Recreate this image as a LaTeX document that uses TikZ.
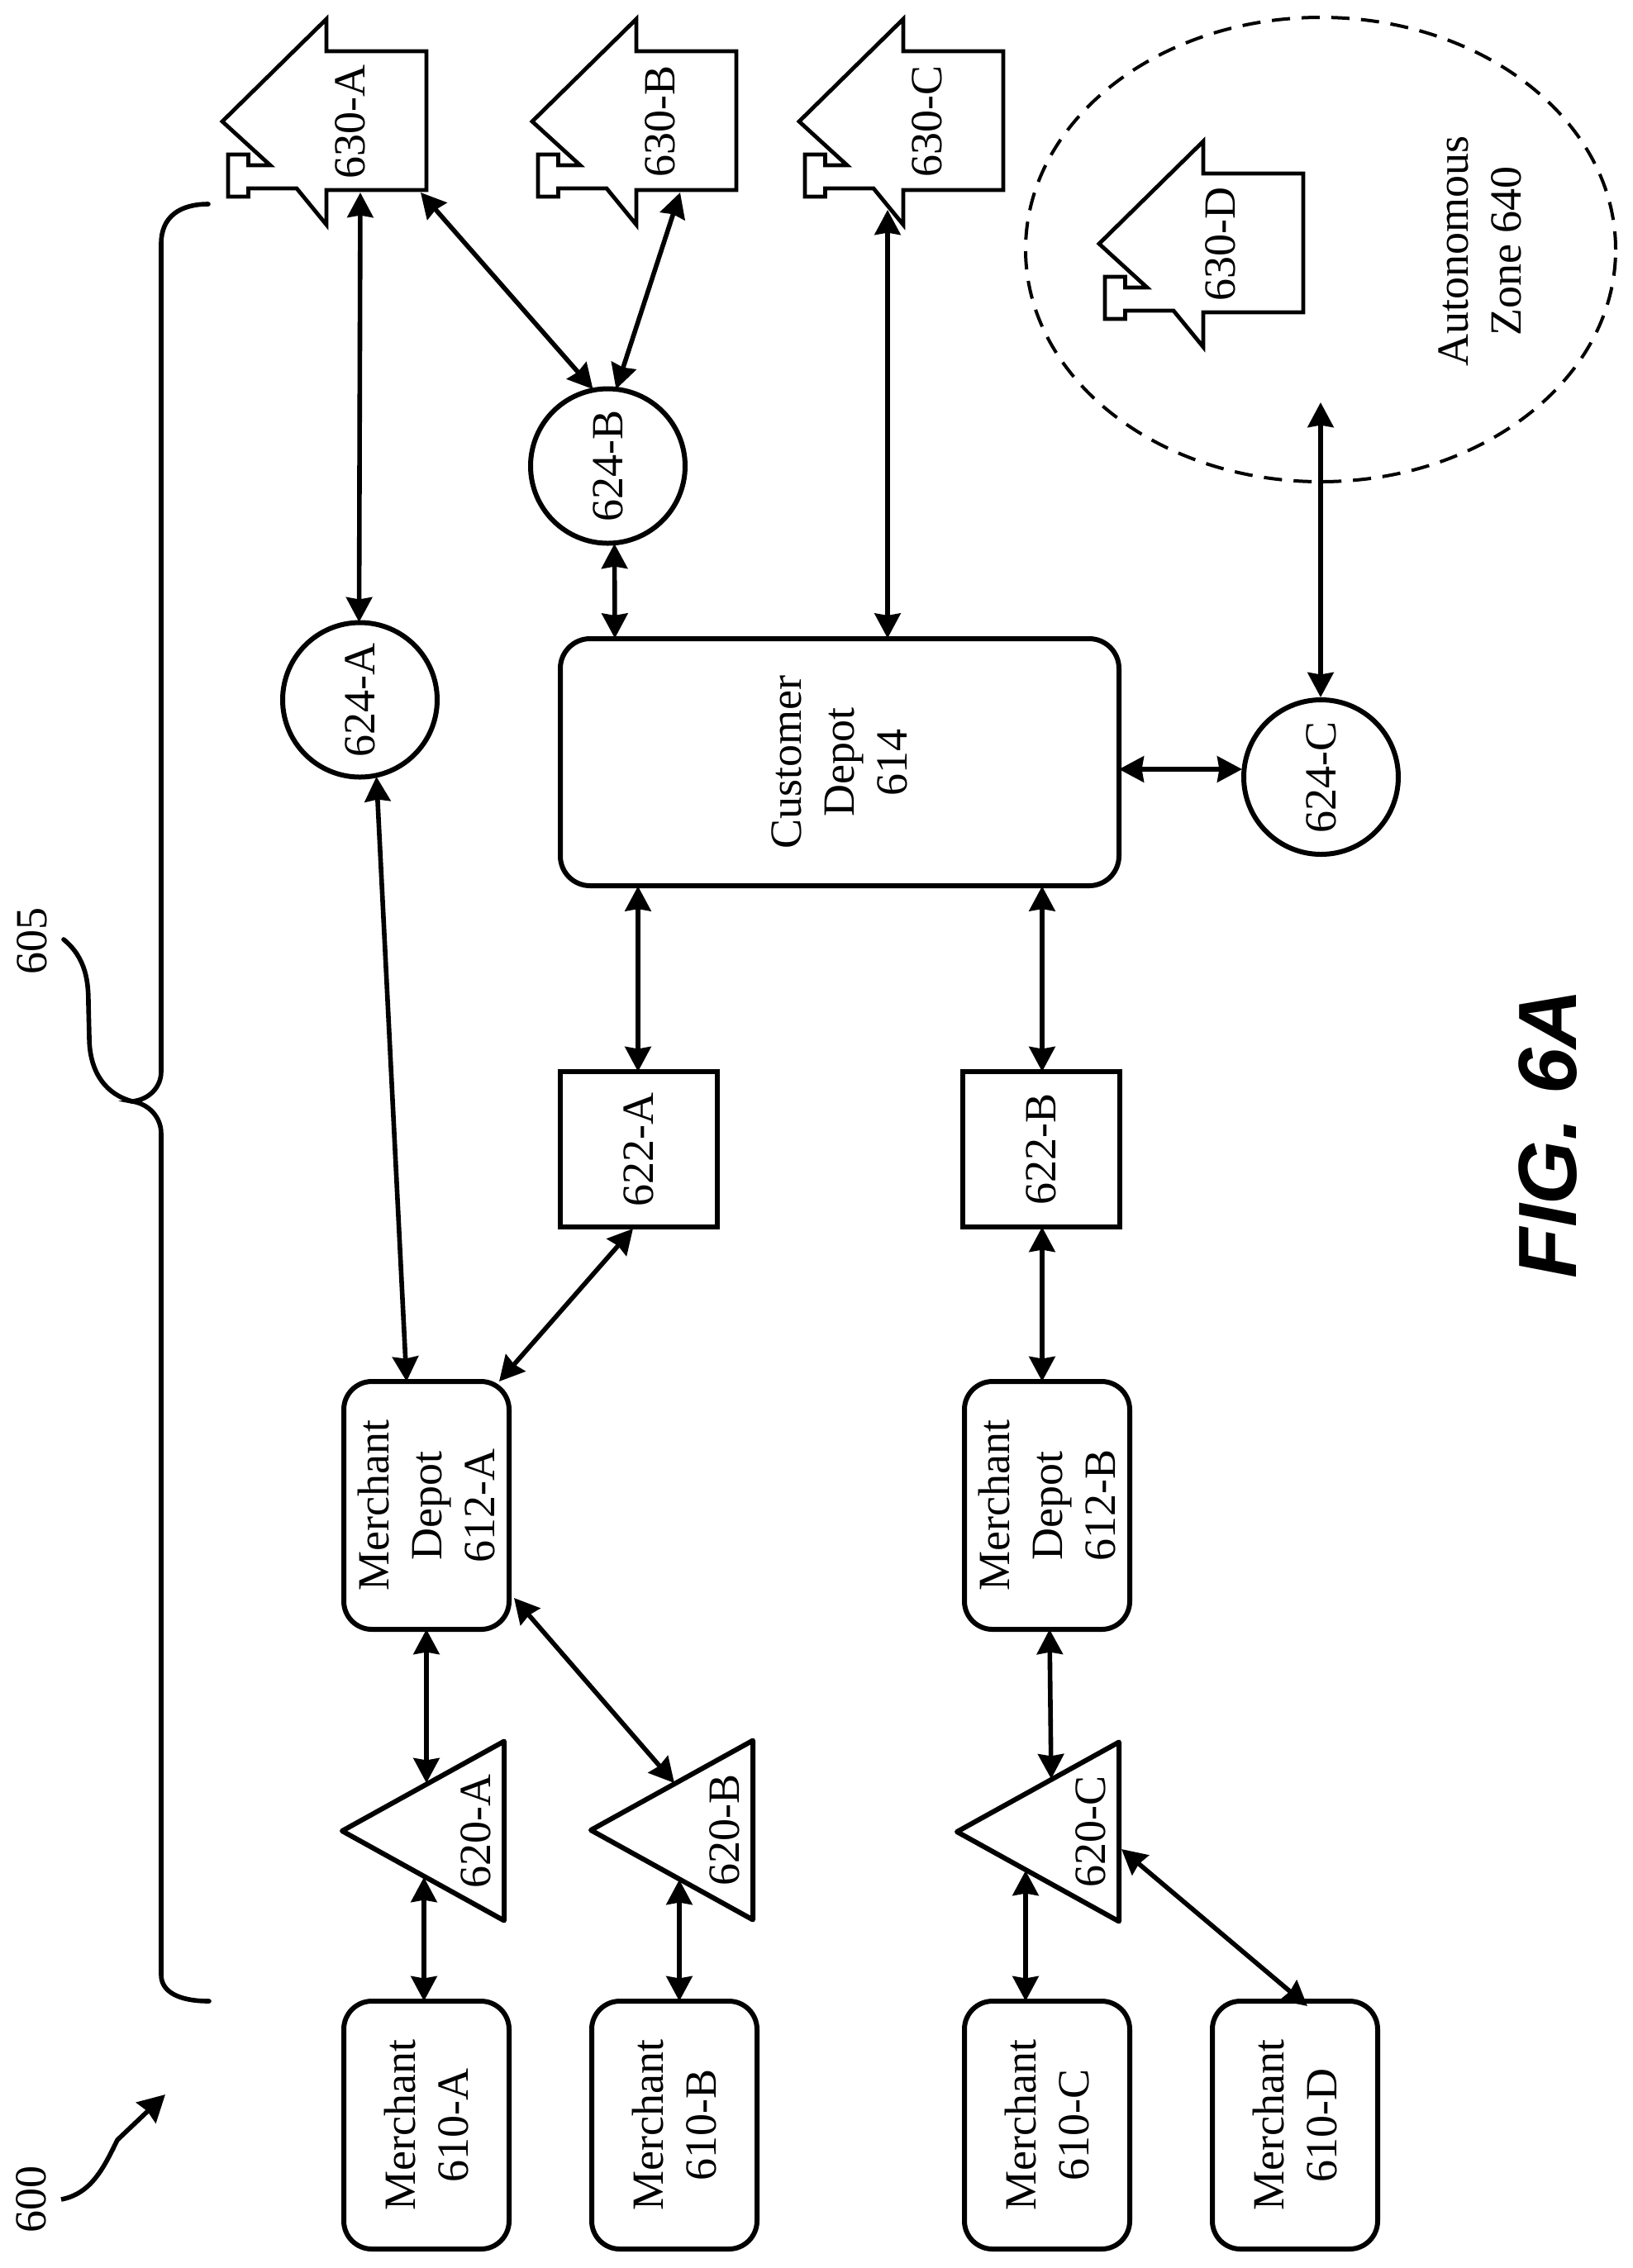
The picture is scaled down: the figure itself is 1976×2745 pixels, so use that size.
\documentclass[tikz,border=0pt]{standalone}
\usepackage{fontspec}
\setmainfont{Liberation Serif}
\newfontfamily\figfont{Liberation Sans}
\usetikzlibrary{arrows.meta,calc,shapes.geometric}
\tikzset{
  lbl/.style={rotate=90,inner sep=0pt,align=center,font=\fontsize{13.5}{16}\selectfont},
  merch node/.style={lbl,draw,line width=1.5pt,rounded corners=8.5pt,minimum width=75pt,minimum height=50pt},
  hub node/.style={lbl,draw,line width=1.5pt,rounded corners=9pt,minimum width=74.75pt,minimum height=169pt},
  square node/.style={lbl,draw,line width=1.35pt,minimum width=47pt,minimum height=47.5pt},
  round node/.style={lbl,draw,circle,line width=1.5pt,minimum size=46.75pt},
  zone node/.style={draw,ellipse,dashed,dash pattern=on 5.5pt off 3.5pt,line width=1pt,minimum width=178.5pt,minimum height=140.5pt,inner sep=0pt},
  tri line/.style={line width=1.5pt,line join=round},
  house line/.style={line width=1.2pt,line join=miter},
  link/.style={line width=1.4pt,{Stealth[length=7.5pt,width=7.8pt,inset=.6pt]}-{Stealth[length=7.5pt,width=7.8pt,inset=.6pt]}},
  pointer/.style={line width=1.4pt,-{Stealth[length=8pt,width=8.5pt,inset=.6pt]}},
  curl/.style={line width=1.4pt,line cap=round}
}
\begin{document}
\begin{tikzpicture}[x=0.25pt,y=-0.25pt]
\useasboundingbox (0,0) rectangle (1976,2745);
% merchants and depots
\node[merch node] (m610a) at (516,2572) {Merchant\\610-A};
\node[merch node] (m610b) at (816,2572) {Merchant\\610-B};
\node[merch node] (m610c) at (1267,2572) {Merchant\\610-C};
\node[merch node] (m610d) at (1567,2572) {Merchant\\610-D};
\node[merch node] (d612a) at (516,1822) {Merchant\\Depot\\612-A};
\node[merch node] (d612b) at (1267,1822) {Merchant\\Depot\\612-B};
\node[hub node] (d614) at (1016,922.5) {Customer\\Depot\\614};
\node[square node] (s622a) at (773,1391) {622-A};
\node[square node] (s622b) at (1260,1391) {622-B};
\node[round node] (c624a) at (435.5,847) {624-A};
\node[round node] (c624b) at (735.5,564) {624-B};
\node[round node] (c624c) at (1598.5,940.5) {624-C};
% triangles
\foreach \n/\t/\x/\y in {620a/620-A/576/2216,620b/620-B/877/2215,620c/620-C/1320/2217}{
  \node[lbl] (t\n) at (\x,\y) {\t};
  \draw[tri line,shift={(t\n)}] (-162,0) -- (34,-108.5) -- (34,108.5) -- cycle;
}
% houses
\foreach \n/\t/\x/\y/\d in {630a/630-A/424/147/0,630b/630-B/799/147/0,630c/630-C/1122/147/0,630d/630-D/1485/295/-8}{
  \coordinate (h\n) at (\x,\y);
  \node[lbl] (l\n) at ($(h\n)+(\d,0)$) {\t};
  \draw[house line,shift={(h\n)}] (-155,0) -- (-29,-124) -- (-29,-85) -- (92,-85) -- (92,83) -- (-29,83) -- (-29,125) -- (-65,81) -- (-123.5,81) -- (-123.5,91) -- (-148,91) -- (-148,40) -- (-123.5,40) -- (-123.5,53) -- (-97,53) -- cycle;
}
\node[zone node] (z640) at (1598,302) {};
\node[lbl] (zl640) at (1791,304) {Autonomous\\Zone 640};
% brace and reference numerals
\coordinate (b605) at (160,1333);
\coordinate (c600) at (200,2535);
\node[lbl] (l605) at (39,1139) {605};
\node[lbl] (l600) at (38,2662) {600};
\node[rotate=90,inner sep=0pt,font=\figfont\bfseries\itshape\fontsize{25}{25}\selectfont] (fig6a) at (1873,1372) {FIG. 6A};
\draw[curl] (252,247) .. controls (218,247) and (195,262) .. (195,295) -- (195,1297) .. controls (195,1316) and (180,1331) .. (b605) .. controls (180,1336) and (195,1352) .. (195,1372) -- (195,2390) .. controls (195,2410) and (215,2422) .. (253,2422);
\draw[curl] ($(l605)+(38,-2)$) .. controls (105,1160) and (107,1190) .. (107,1215) -- (108,1255) .. controls (108,1300) and (130,1325) .. (b605);
\draw[pointer] ($(l600)+(36,0)$) .. controls (110,2655) and (125,2625) .. (142,2590) -- (c600);
% connectors
\draw[link] ($(m610a)+(-3,-150)$) -- ($(t620a)+(-63,56)$);
\draw[link] ($(t620a)+(-60,-58)$) -- ($(d612a)+(0,150)$);
\draw[link] ($(d612a)+(106,112)$) -- ($(t620b)+(-61,-57)$);
\draw[link] ($(m610b)+(6,-150)$) -- ($(t620b)+(-55,60)$);
\draw[link] ($(d612a)+(88,-150)$) -- ($(s622a)+(-7,96)$);
\draw[link] ($(d612a)+(-24,-150)$) -- ($(c624a)+(20,93)$);
\draw[link] ($(s622a)+(-1,-94)$) -- ($(d614)+(-244,150)$);
\draw[link] ($(d614)+(-272,-150)$) -- ($(c624b)+(8,94)$);
\draw[link] ($(c624a)+(-1,-94)$) -- ($(h630a)+(12,86)$);
\draw[link] ($(c624b)+(-18,-93)$) -- ($(h630a)+(85,86)$);
\draw[link] ($(c624b)+(10,-93)$) -- ($(h630b)+(24,86)$);
\draw[link] ($(d614)+(58,-150)$) -- ($(h630c)+(-48,107)$);
\draw[link] ($(d614)+(338,8.5)$) -- ($(c624c)+(-95.5,-9.5)$);
\draw[link] ($(c624c)+(-.5,-96.5)$) -- ($(z640)+(0,185)$);
\draw[link] ($(d614)+(245,150)$) -- ($(s622b)+(1,-94)$);
\draw[link] ($(s622b)+(1,94)$) -- ($(d612b)+(-6,-150)$);
\draw[link] ($(d612b)+(3,150)$) -- ($(t620c)+(-48,-64)$);
\draw[link] ($(t620c)+(-79,47)$) -- ($(m610c)+(-26,-150)$);
\draw[link] ($(t620c)+(37,21)$) -- ($(m610d)+(15,-144)$);
\end{tikzpicture}
\end{document}
